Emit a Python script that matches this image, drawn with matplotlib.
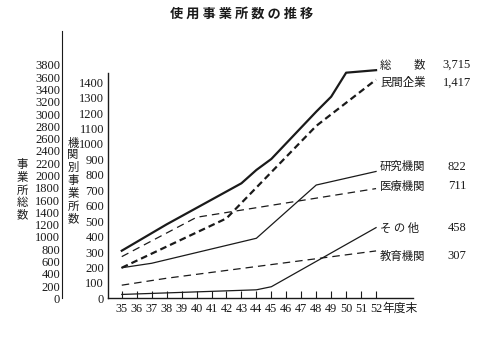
import matplotlib.pyplot as plt

plt.rcParams['font.family'] = ['Noto Sans CJK JP', 'DejaVu Sans']
SERIF = 'Liberation Serif'
INK = '#1a1a1a'

# fiscal years (昭和) on the x axis
years = list(range(35, 53))

# 総数 (read on the outer axis)
total_x = [35, 38, 43, 44, 45, 48, 49, 50, 52]
total_y = [775, 1204, 1873, 2090, 2269, 3039, 3283, 3674, 3715]

# 機関別 (read on the inner axis)
private_x = [35, 42, 48, 52]
private_y = [198, 518, 1117, 1417]

research_x = [35, 37, 44, 48, 52]
research_y = [198, 227, 389, 734, 822]

medical_x = [35, 40, 52]
medical_y = [270, 525, 711]

other_x = [35, 44, 45, 52]
other_y = [25, 55, 75, 458]

edu_x = [35, 38, 52]
edu_y = [85, 130, 307]

inner_ticks = list(range(0, 1401, 100))
outer_ticks = list(range(0, 3801, 200))

W, H = 489, 340
fig = plt.figure(figsize=(W / 100, H / 100), dpi=100)


def box(l, t, r, b):
    return [l / W, 1 - b / H, (r - l) / W, (b - t) / H]


# inner axis: 機関別事業所数
ax = fig.add_axes(box(108.3, 73, 413, 298.3))
ax.set_xlim(34.10, 54.47)
ax.set_ylim(0, 1460)
ax.spines[['top', 'right']].set_visible(False)
for s in ('left', 'bottom'):
    ax.spines[s].set_color(INK)
    ax.spines[s].set_linewidth(1.0)
ax.set_yticks(inner_ticks)
ax.set_xticks(years)
ax.tick_params(axis='y', length=0, pad=3, labelsize=9, colors=INK)
ax.tick_params(axis='x', direction='in', length=5, width=0.8, pad=3.5,
               labelsize=8.8, colors=INK)
for lbl in ax.get_xticklabels() + ax.get_yticklabels():
    lbl.set_fontfamily(SERIF)

# total is drawn on its own scale, same as the outer axis
ax_tot = ax.twinx()
ax_tot.set_ylim(0, 3669)
ax_tot.axis('off')

# outer axis: 事業所総数
ax_out = fig.add_axes(box(62.3, 31, 62.5, 298.3))
ax_out.set_ylim(0, 4353)
ax_out.patch.set_visible(False)
ax_out.spines[['top', 'right', 'bottom']].set_visible(False)
ax_out.spines['left'].set_color(INK)
ax_out.set_xticks([])
ax_out.set_yticks(outer_ticks)
ax_out.tick_params(axis='y', length=0, pad=1.5, labelsize=9, colors=INK)
for lbl in ax_out.get_yticklabels():
    lbl.set_fontfamily(SERIF)

ax_tot.plot(total_x, total_y, color=INK, lw=1.6, clip_on=False)
ax.plot(private_x, private_y, color=INK, lw=1.6, ls=(0, (3, 1.8)), clip_on=False)
ax.plot(research_x, research_y, color=INK, lw=0.9, clip_on=False)
ax.plot(medical_x, medical_y, color=INK, lw=0.9, ls=(0, (6, 4)), clip_on=False)
ax.plot(other_x, other_y, color=INK, lw=0.9, clip_on=False)
ax.plot(edu_x, edu_y, color=INK, lw=0.9, ls=(0, (6, 4)), clip_on=False)

# labels at the line ends
names = ['総\u3000\u3000数', '民間企業', '研究機関', '医療機関', 'そ の 他', '教育機関']
ends = [total_y[-1], private_y[-1], research_y[-1], medical_y[-1], other_y[-1], edu_y[-1]]
label_y = [65, 82.7, 166.7, 186, 228, 256]
num_right = [470.7, 470.7, 466.7, 466.7, 466.7, 466.7]
for name, v, y, xr in zip(names, ends, label_y, num_right):
    fig.text(380 / W, 1 - y / H, name, va='center', fontsize=8.2, color=INK)
    fig.text(xr / W, 1 - y / H, f'{v:,}', va='center', ha='right',
             fontsize=9, family=SERIF, color=INK)

fig.text(382 / W, 1 - 308 / H, '年度末', va='center', fontsize=8.5, color=INK)

fig.text(242 / W, 1 - 14 / H, ' '.join('使用事業所数の推移'), ha='center',
         va='center', fontsize=9.5, fontweight='bold', color=INK)

fig.text(22 / W, 1 - 190 / H, '\n'.join('事業所総数'), ha='center', va='center',
         fontsize=8.2, linespacing=1.22, color=INK)
fig.text(73 / W, 1 - 181 / H, '\n'.join('機関別事業所数'), ha='center',
         va='center', fontsize=8.2, linespacing=1.22, color=INK)

fig.savefig('out.png', dpi=100, facecolor='white')
